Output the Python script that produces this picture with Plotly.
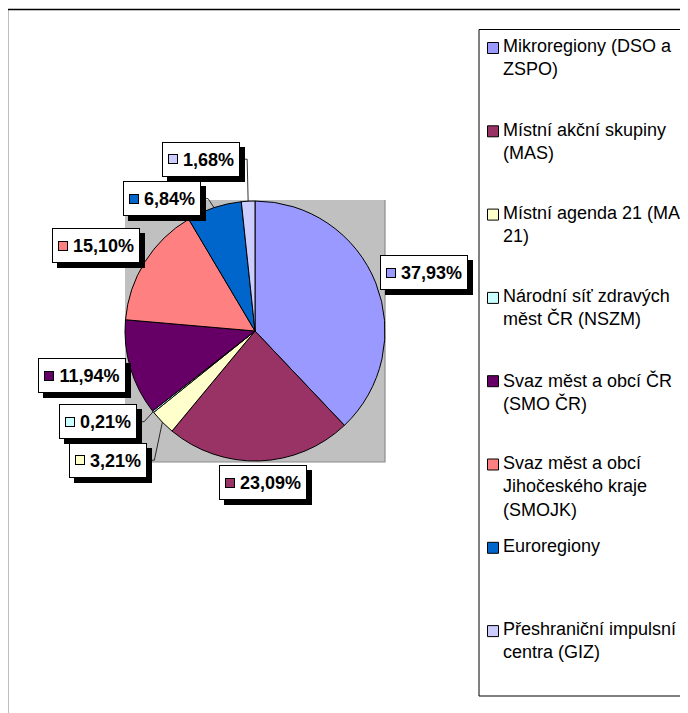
import math
import plotly.graph_objects as go

# page is 688x713 but the html body keeps an 8px margin, so the figure is 8px smaller
OFF = 8
W, H = 688 - OFF, 713 - OFF
FONT = "Liberation Sans, Arial, sans-serif"

categories = [
    "Mikroregiony (DSO a ZSPO)",
    "Místní akční skupiny (MAS)",
    "Místní agenda 21 (MA 21)",
    "Národní síť zdravých měst ČR (NSZM)",
    "Svaz měst a obcí ČR (SMO ČR)",
    "Svaz měst a obcí Jihočeského kraje (SMOJK)",
    "Euroregiony",
    "Přeshraniční impulsní centra (GIZ)",
]
legend_labels = [
    "Mikroregiony (DSO a<br>ZSPO)",
    "Místní akční skupiny<br>(MAS)",
    "Místní agenda 21 (MA<br>21)",
    "Národní síť zdravých<br>měst ČR (NSZM)",
    "Svaz měst a obcí ČR<br>(SMO ČR)",
    "Svaz měst a obcí<br>Jihočeského kraje<br>(SMOJK)",
    "Euroregiony",
    "Přeshraniční impulsní<br>centra (GIZ)",
]
shares = [37.93, 23.09, 3.21, 0.21, 11.94, 15.10, 6.84, 1.68]
colors = ["#9999FF", "#993366", "#FFFFCC", "#CCFFFF", "#660066", "#FF8080", "#0066CC", "#CCCCFF"]

# label box placement: offset (px) from slice edge point to box left / middle
label_offsets = [(4, -10), (-40, 22), (-93, 38), (-94, 10), (-92, 8), (-93, -16), (-91, -9), (-86, -42)]
leader = [False, False, True, True, False, False, True, True]

# pie geometry in page pixels
CX, CY, R = 255, 331, 130


def px(x):
    return (x - OFF) / W


def py(y):
    return 1 - (y - OFF) / H


def text_width(txt, size=18):
    # Arial / Liberation Sans Bold advance widths
    m = {",": 0.278, "%": 0.889}
    w = sum(m.get(c, 0.556) for c in txt) + 3 * 0.278
    return w * size


fig = go.Figure(go.Pie(
    labels=categories,
    values=shares,
    sort=False,
    direction="clockwise",
    rotation=0,
    textinfo="none",
    hoverinfo="label+percent",
    marker=dict(colors=colors, line=dict(color="black", width=1)),
    domain=dict(x=[px(CX - R), px(CX + R)], y=[py(CY + R), py(CY - R)]),
    showlegend=False,
))

shapes = [
    # chart frame (only left/top visible)
    dict(type="line", xref="paper", yref="paper", x0=px(7.5), x1=px(7.5), y0=py(9.5), y1=0,
         line=dict(color="black", width=1.5)),
    dict(type="line", xref="paper", yref="paper", x0=px(7.5), x1=1, y0=py(9.5), y1=py(9.5),
         line=dict(color="black", width=1.5)),
    # grey plot area
    dict(type="rect", xref="paper", yref="paper", layer="below",
         x0=px(125), x1=px(385), y0=py(462), y1=py(200),
         fillcolor="#C0C0C0", line=dict(width=0)),
    dict(type="path", xref="paper", yref="paper", layer="below",
         path=f"M {px(385)} {py(200)} L {px(385)} {py(462)} L {px(125)} {py(462)}",
         line=dict(color="#8C8C8C", width=1.2)),
    # legend box
    dict(type="rect", xref="paper", yref="paper",
         x0=px(479), x1=px(686), y0=py(696), y1=py(29.5),
         fillcolor="white", layer="below", line=dict(color="black", width=1)),
]
annotations = []

total = sum(shares)
cum = 0
for i, v in enumerate(shares):
    mid = (cum + v / 2) / total * 2 * math.pi
    cum += v
    ex = CX + R * math.sin(mid)
    ey = CY - R * math.cos(mid)
    dx, dy = label_offsets[i]
    L, yc = ex + dx, ey + dy
    num = f"{v:.2f}".replace(".", ",") + "%"
    tw = round(text_width(num))
    if leader[i]:
        xr = L + tw + 12
        shapes.append(dict(
            type="path", xref="paper", yref="paper",
            path=f"M {px(xr)} {py(yc)} L {px(xr + 7)} {py(yc)} L {px(ex)} {py(ey)}",
            line=dict(color="black", width=0.8),
        ))
    common = dict(x=px(L), y=py(yc), xref="paper", yref="paper", xanchor="left", yanchor="middle",
                  showarrow=False, borderwidth=1, borderpad=5, width=tw, height=23,
                  font=dict(size=18, color="black", family=FONT))
    # drop shadow
    annotations.append(dict(**common, text="&nbsp;", bgcolor="black", bordercolor="black",
                            xshift=5, yshift=-5))
    annotations.append(dict(**common, text="&nbsp;&nbsp;&nbsp;<b>" + num + "</b>",
                            bgcolor="white", bordercolor="black"))
    # colour key inside the label
    annotations.append(dict(x=px(L + 6), y=py(yc), xref="paper", yref="paper",
                            xanchor="left", yanchor="middle", text="&nbsp;", showarrow=False,
                            font=dict(size=2), width=8, height=8, bgcolor=colors[i],
                            bordercolor="black", borderwidth=1, borderpad=0))

# legend, drawn by hand so the entries keep Excel's even spacing
for i, (lab, col) in enumerate(zip(legend_labels, colors)):
    yc = 48 + 83.3 * i
    shapes.append(dict(type="rect", xref="paper", yref="paper",
                       x0=px(487.5), x1=px(498.5), y0=py(yc + 5.5), y1=py(yc - 5.5),
                       fillcolor=col, line=dict(color="black", width=1)))
    annotations.append(dict(x=px(503), y=py(yc - 11.7), xref="paper", yref="paper",
                            xanchor="left", yanchor="top", align="left", text=lab,
                            showarrow=False, borderwidth=0, borderpad=0,
                            font=dict(size=18, color="black", family=FONT)))

fig.update_layout(
    width=W, height=H,
    margin=dict(l=0, r=0, t=0, b=0),
    paper_bgcolor="white",
    plot_bgcolor="white",
    font=dict(family=FONT, size=18, color="black"),
    shapes=shapes,
    annotations=annotations,
    showlegend=False,
)

fig.write_html("out.html")
